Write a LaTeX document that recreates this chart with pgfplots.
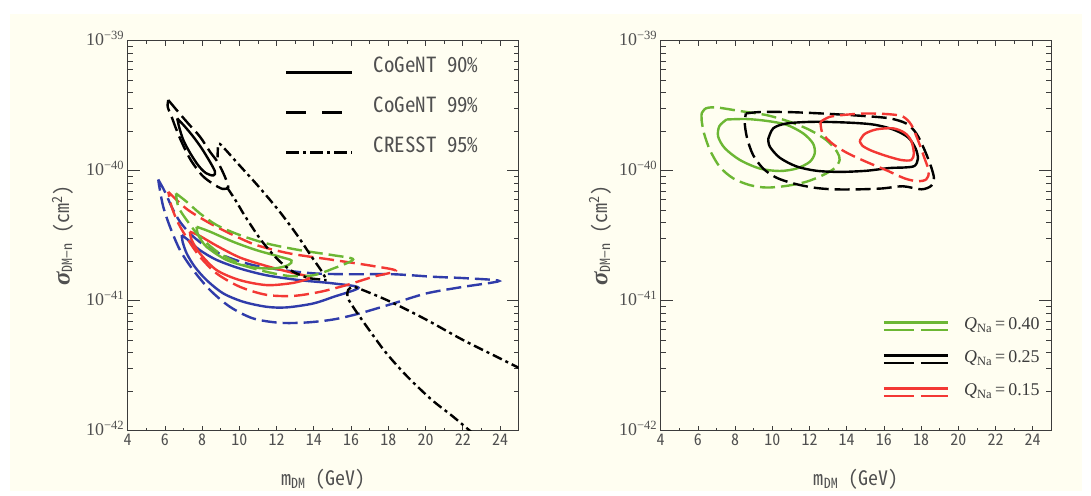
\documentclass[border=0pt]{standalone}
\usepackage{pgfplots}
\pgfplotsset{compat=1.18}
\usepackage{fontspec}
\setmainfont{Liberation Serif}
\newfontfamily\gothic[RawFeature=+hwid]{Noto Sans CJK JP}

\definecolor{bgcream}{RGB}{255,254,241}
\definecolor{cblue}{RGB}{48,60,170}
\definecolor{cred}{RGB}{243,56,52}
\definecolor{cgreen}{RGB}{108,183,52}
\definecolor{axgray}{RGB}{60,60,60}
\definecolor{txtgray}{RGB}{80,80,80}

\newcommand\tickfont{\gothic\fontsize{16}{16}\selectfont}
\newcommand\labfont{\gothic\fontsize{20}{20}\selectfont}
\newcommand\legfont{\gothic\fontsize{21}{21}\selectfont}
\newcommand\serfont{\rmfamily\fontsize{18}{18}\selectfont}
\newcommand\xlab{m\textsubscript{DM} (GeV)}
\newcommand\ylab{{\rmfamily\bfseries\itshape\fontsize{25}{25}\selectfont σ}\textsubscript{DM−n} (cm\textsuperscript{2})}

\pgfplotsset{
  cont/.style={line width=2.4bp, smooth, forget plot},
  dsh/.style={dash pattern=on 15bp off 6bp},
  dd/.style={line width=2.4bp, smooth, forget plot, dash pattern=on 10bp off 4bp on 3bp off 4bp},
}

\begin{document}
\begin{tikzpicture}
\useasboundingbox (0,0) rectangle (1091bp,496bp);
\fill[white] (0,0) rectangle (1091bp,496bp);
\fill[bgcream] (10bp,5bp) rectangle (1082bp,482bp);

% ---------------- left panel: CoGeNT / CRESST and the three Q_Na fits
\pgfplotsset{legend image code/.code={\draw[#1] (0bp,0bp) -- (66bp,0bp);}}
\begin{axis}[
  at={(127.7bp,65.3bp)}, anchor=south west,
  scale only axis, width=391bp, height=390bp,
  ymode=log, xmin=4, xmax=25, ymin=1e-42, ymax=1e-39,
  axis line style={draw=axgray, line width=1.1bp},
  tick style={draw=axgray, line width=0.8bp},
  major tick length=12bp, minor tick length=5bp,
  xtick={4,6,...,24}, minor x tick num=1,
  xticklabels={4,6,8,10,12,14,16,18,20,22,24},
  xtick style={/pgfplots/major tick length=5bp, /pgfplots/minor tick length=3bp},
  xticklabel style={font=\tickfont, text=txtgray},
  ytick={1e-42,1e-41,1e-40,1e-39},
  minor ytick={2e-42,3e-42,4e-42,5e-42,6e-42,7e-42,8e-42,9e-42,
               2e-41,3e-41,4e-41,5e-41,6e-41,7e-41,8e-41,9e-41,
               2e-40,3e-40,4e-40,5e-40,6e-40,7e-40,8e-40,9e-40},
  yticklabels={10\textsuperscript{−42},10\textsuperscript{−41},10\textsuperscript{−40},10\textsuperscript{−39}},
  yticklabel style={font=\serfont, text=txtgray, yshift=2bp},
  xlabel={\xlab},
  xlabel style={font=\labfont, text=txtgray, at={(axis description cs:0.5,-0.125)}, anchor=center},
  ylabel={\ylab},
  ylabel style={font=\labfont, text=txtgray, at={(axis description cs:-0.166,0.5)}, anchor=center},
  legend style={draw=none, fill=none, inner sep=0pt, outer sep=0pt,
    at={(axis description cs:0.4023,0.944)}, anchor=north west,
    font=\legfont, text=txtgray, row sep=20bp, column sep=20bp,
    nodes={inner sep=0pt, text height=10bp, text depth=10bp}},
  legend cell align=left]

% blue, 99%
\addplot[cont, dsh, cblue] coordinates {
(5.64,8.57e-41) (6.00,6.89e-41) (6.36,5.28e-41) (6.81,4.05e-41) (7.43,3.20e-41)
(8.24,2.60e-41) (9.31,2.18e-41) (10.74,1.88e-41) (12.35,1.72e-41) (14.14,1.62e-41)
(16.11,1.60e-41) (18.26,1.60e-41) (20.41,1.53e-41) (22.20,1.49e-41) (23.95,1.42e-41)
(22.02,1.28e-41) (20.05,1.14e-41) (18.26,9.53e-42) (16.47,8.00e-42) (15.04,7.18e-42)
(13.61,6.81e-42) (12.18,6.77e-42) (10.74,7.31e-42) (9.49,8.99e-42) (8.42,1.21e-41)
(7.52,1.72e-41) (6.81,2.45e-41) (6.27,3.71e-41) (5.91,5.28e-41) (5.70,7.53e-41) (5.64,8.57e-41)};
% blue, 90%
\addplot[cont, cblue] coordinates {
(6.90,3.20e-41) (7.25,2.93e-41) (7.88,2.45e-41) (8.78,2.06e-41) (10.03,1.77e-41)
(11.46,1.57e-41) (13.25,1.44e-41) (15.04,1.36e-41) (16.40,1.26e-41) (15.04,1.07e-41)
(13.96,9.53e-42) (12.53,8.89e-42) (11.46,8.99e-42) (10.21,9.82e-42) (9.13,1.14e-41)
(8.24,1.44e-41) (7.61,1.82e-41) (7.17,2.31e-41) (6.95,2.84e-41) (6.90,3.20e-41)};
% red, 99%
\addplot[cont, dsh, cred] coordinates {
(6.18,6.89e-41) (6.54,6.13e-41) (7.25,4.98e-41) (8.42,3.94e-41) (9.67,3.20e-41)
(10.92,2.68e-41) (12.71,2.31e-41) (15.04,2.06e-41) (17.19,1.85e-41) (18.40,1.70e-41)
(17.19,1.53e-41) (15.75,1.32e-41) (14.32,1.17e-41) (12.89,1.09e-41) (11.46,1.11e-41)
(10.03,1.28e-41) (8.78,1.62e-41) (7.88,2.18e-41) (7.25,2.93e-41) (6.72,3.94e-41)
(6.36,5.28e-41) (6.18,6.89e-41)};
% red, 90%
\addplot[cont, cred] coordinates {
(7.34,3.40e-41) (7.88,3.15e-41) (8.78,2.65e-41) (10.03,2.15e-41) (11.46,1.85e-41)
(12.71,1.66e-41) (13.80,1.52e-41) (13.40,1.43e-41) (12.71,1.36e-41) (11.46,1.32e-41)
(10.03,1.44e-41) (8.78,1.72e-41) (7.88,2.31e-41) (7.43,2.95e-41) (7.34,3.40e-41)};
% green, 99%
\addplot[cont, dsh, cgreen] coordinates {
(6.59,6.70e-41) (7.17,5.77e-41) (7.88,4.70e-41) (8.78,3.82e-41) (10.03,3.20e-41)
(11.46,2.76e-41) (13.25,2.45e-41) (15.04,2.24e-41) (16.11,2.08e-41) (15.04,1.77e-41)
(13.96,1.57e-41) (12.71,1.55e-41) (11.46,1.67e-41) (10.21,1.88e-41) (8.95,2.31e-41)
(7.88,3.10e-41) (7.17,4.17e-41) (6.72,5.28e-41) (6.59,6.70e-41)};
% green, 90%
\addplot[cont, cgreen] coordinates {
(7.70,3.71e-41) (8.42,3.40e-41) (9.67,2.84e-41) (10.92,2.45e-41) (12.18,2.18e-41)
(12.80,2.04e-41) (12.62,1.88e-41) (11.82,1.77e-41) (10.57,1.82e-41) (9.31,2.06e-41)
(8.24,2.60e-41) (7.79,3.20e-41) (7.70,3.71e-41)};

% CoGeNT 99%
\addplot[cont, dsh, black] coordinates {
(6.18,3.50e-40) (6.63,2.93e-40) (7.25,2.31e-40) (7.88,1.83e-40) (8.42,1.40e-40)
(8.86,1.15e-40) (9.22,9.00e-41) (9.40,7.50e-41) (9.10,7.25e-41) (8.60,7.90e-41)
(8.00,9.20e-41) (7.40,1.20e-40) (6.95,1.60e-40) (6.60,2.10e-40) (6.36,2.60e-40)
(6.15,3.10e-40) (6.18,3.50e-40)};
% CoGeNT 90%
\addplot[cont, black] coordinates {
(6.66,2.53e-40) (7.08,2.18e-40) (7.52,1.83e-40) (7.97,1.49e-40) (8.42,1.17e-40)
(8.69,9.84e-41) (8.60,9.20e-41) (8.20,9.60e-41) (7.79,1.10e-40) (7.34,1.38e-40)
(6.99,1.72e-40) (6.77,2.15e-40) (6.66,2.53e-40)};

% CRESST 95%, low-mass region (two edges meeting at the bottom)
\addplot[dd, black] coordinates {
(9.35,7.40e-41) (9.80,5.90e-41) (10.21,4.70e-41) (10.65,3.75e-41) (11.10,3.01e-41)
(11.55,2.50e-41) (12.00,2.12e-41) (12.45,1.85e-41) (12.89,1.67e-41) (13.35,1.56e-41)
(13.79,1.49e-41) (14.30,1.46e-41) (14.68,1.44e-41)};
\addplot[dd, black] coordinates {
(8.83,1.27e-40) (8.88,1.61e-40) (9.20,1.48e-40) (9.86,1.16e-40) (10.98,7.71e-41)
(12.10,4.97e-41) (13.04,3.29e-41) (13.88,2.18e-41) (14.44,1.67e-41) (14.68,1.44e-41)};
% CRESST 95%, high-mass region
\addplot[dd, black] coordinates {
(22.60,9.40e-43) (21.46,1.29e-42) (20.33,1.73e-42) (19.02,2.61e-42) (17.90,3.94e-42)
(16.97,5.96e-42) (16.22,8.48e-42) (15.81,1.06e-41) (15.84,1.21e-41) (16.05,1.27e-41)
(16.31,1.26e-41) (18.00,1.00e-41) (20.00,7.20e-42) (22.00,5.00e-42) (24.00,3.60e-42)
(25.20,2.95e-42)};

\addlegendimage{black, line width=2.8bp}
\addlegendentry{CoGeNT 90\%}
\addlegendimage{black, line width=2.8bp, dash pattern=on 20bp off 16bp}
\addlegendentry{CoGeNT 99\%}
\addlegendimage{black, line width=2.8bp, dash pattern=on 13bp off 4bp on 3bp off 4bp}
\addlegendentry{CRESST 95\%}
\end{axis}

% ---------------- right panel: fits for three values of Q_Na
\pgfplotsset{legend image code/.code={%
  \draw[#1, line width=2.4bp] (0bp,3.8bp) -- (64bp,3.8bp);
  \draw[#1, line width=2.4bp, dash pattern=on 30bp off 7bp] (0bp,-3.8bp) -- (64bp,-3.8bp);}}
\begin{axis}[
  at={(660.7bp,65.3bp)}, anchor=south west,
  scale only axis, width=390.6bp, height=390bp,
  ymode=log, xmin=4, xmax=25, ymin=1e-42, ymax=1e-39,
  axis line style={draw=axgray, line width=1.1bp},
  tick style={draw=axgray, line width=0.8bp},
  major tick length=12bp, minor tick length=5bp,
  xtick={4,6,...,24}, minor x tick num=1,
  xticklabels={4,6,8,10,12,14,16,18,20,22,24},
  xtick style={/pgfplots/major tick length=5bp, /pgfplots/minor tick length=3bp},
  xticklabel style={font=\tickfont, text=txtgray},
  ytick={1e-42,1e-41,1e-40,1e-39},
  minor ytick={2e-42,3e-42,4e-42,5e-42,6e-42,7e-42,8e-42,9e-42,
               2e-41,3e-41,4e-41,5e-41,6e-41,7e-41,8e-41,9e-41,
               2e-40,3e-40,4e-40,5e-40,6e-40,7e-40,8e-40,9e-40},
  yticklabels={10\textsuperscript{−42},10\textsuperscript{−41},10\textsuperscript{−40},10\textsuperscript{−39}},
  yticklabel style={font=\serfont, text=txtgray, yshift=2bp},
  xlabel={\xlab},
  xlabel style={font=\labfont, text=txtgray, at={(axis description cs:0.5,-0.125)}, anchor=center},
  ylabel={\ylab},
  ylabel style={font=\labfont, text=txtgray, at={(axis description cs:-0.154,0.5)}, anchor=center},
  legend style={draw=none, fill=none, inner sep=0pt, outer sep=0pt,
    at={(axis description cs:0.5684,0.29)}, anchor=north west,
    font=\serfont, text=axgray, row sep=16bp, column sep=15bp,
    nodes={inner sep=0pt, text height=12bp, text depth=5bp}},
  legend cell align=left]

% Q_Na = 0.40
\addplot[cont, dsh, cgreen] coordinates {
(6.20,2.76e-40) (6.43,3.02e-40) (7.00,3.07e-40) (8.26,2.88e-40) (9.69,2.68e-40)
(10.94,2.38e-40) (12.01,2.06e-40) (12.91,1.72e-40) (13.48,1.40e-40) (13.62,1.21e-40)
(13.36,1.05e-40) (12.73,9.27e-41) (11.84,8.24e-41) (10.76,7.65e-41) (9.69,7.43e-41)
(8.79,7.76e-41) (7.90,8.74e-41) (7.18,1.07e-40) (6.65,1.44e-40) (6.33,1.94e-40)
(6.20,2.45e-40) (6.20,2.76e-40)};
\addplot[cont, cgreen] coordinates {
(7.54,2.48e-40) (8.61,2.50e-40) (9.69,2.42e-40) (10.76,2.26e-40) (11.66,1.94e-40)
(12.19,1.62e-40) (12.28,1.36e-40) (12.01,1.17e-40) (11.30,1.04e-40) (10.40,9.96e-41)
(9.33,1.04e-40) (8.26,1.21e-40) (7.45,1.49e-40) (7.09,1.83e-40) (7.15,2.20e-40)
(7.54,2.48e-40)};
% Q_Na = 0.25
\addplot[cont, dsh, black] coordinates {
(8.58,2.76e-40) (9.33,2.83e-40) (10.76,2.83e-40) (12.19,2.78e-40) (13.62,2.71e-40)
(15.06,2.63e-40) (16.31,2.53e-40) (17.20,2.31e-40) (17.74,1.94e-40) (18.19,1.44e-40)
(18.54,1.07e-40) (18.69,8.74e-41) (18.54,7.65e-41) (18.01,7.20e-41) (17.02,7.60e-41)
(15.95,7.32e-41) (14.70,7.20e-41) (13.27,7.20e-41) (12.19,7.43e-41) (11.12,8.00e-41)
(10.22,8.85e-41) (9.51,1.04e-40) (8.97,1.32e-40) (8.65,1.77e-40) (8.52,2.31e-40)
(8.58,2.76e-40)};
\addplot[cont, black] coordinates {
(9.78,1.75e-40) (10.05,2.12e-40) (10.76,2.31e-40) (12.19,2.38e-40) (13.98,2.35e-40)
(15.41,2.27e-40) (16.49,2.08e-40) (17.29,1.81e-40) (17.70,1.49e-40) (17.83,1.24e-40)
(17.65,1.09e-40) (17.11,1.06e-40) (16.31,1.05e-40) (15.06,1.00e-40) (13.62,9.80e-41)
(12.37,1.00e-40) (11.30,1.08e-40) (10.40,1.26e-40) (9.87,1.53e-40) (9.78,1.75e-40)};
% Q_Na = 0.15
\addplot[cont, dsh, cred] coordinates {
(12.59,2.38e-40) (13.09,2.60e-40) (13.98,2.70e-40) (15.06,2.76e-40) (16.31,2.72e-40)
(17.02,2.61e-40) (17.47,2.26e-40) (17.83,1.72e-40) (18.19,1.24e-40) (18.42,9.84e-41)
(18.28,8.60e-41) (17.83,8.30e-41) (17.11,8.74e-41) (16.13,1.01e-40) (15.06,1.17e-40)
(14.07,1.36e-40) (13.27,1.60e-40) (12.70,1.94e-40) (12.59,2.38e-40)};
\addplot[cont, cred] coordinates {
(14.70,1.70e-40) (14.97,1.92e-40) (15.59,2.08e-40) (16.49,2.12e-40) (17.11,1.96e-40)
(17.47,1.70e-40) (17.61,1.36e-40) (17.47,1.21e-40) (16.93,1.21e-40) (16.13,1.30e-40)
(15.32,1.43e-40) (14.84,1.56e-40) (14.70,1.70e-40)};

\addlegendimage{cgreen}
\addlegendentry{\textit{Q}\textsubscript{Na}\,=\,0.40}
\addlegendimage{black}
\addlegendentry{\textit{Q}\textsubscript{Na}\,=\,0.25}
\addlegendimage{cred}
\addlegendentry{\textit{Q}\textsubscript{Na}\,=\,0.15}
\end{axis}
\end{tikzpicture}
\end{document}
